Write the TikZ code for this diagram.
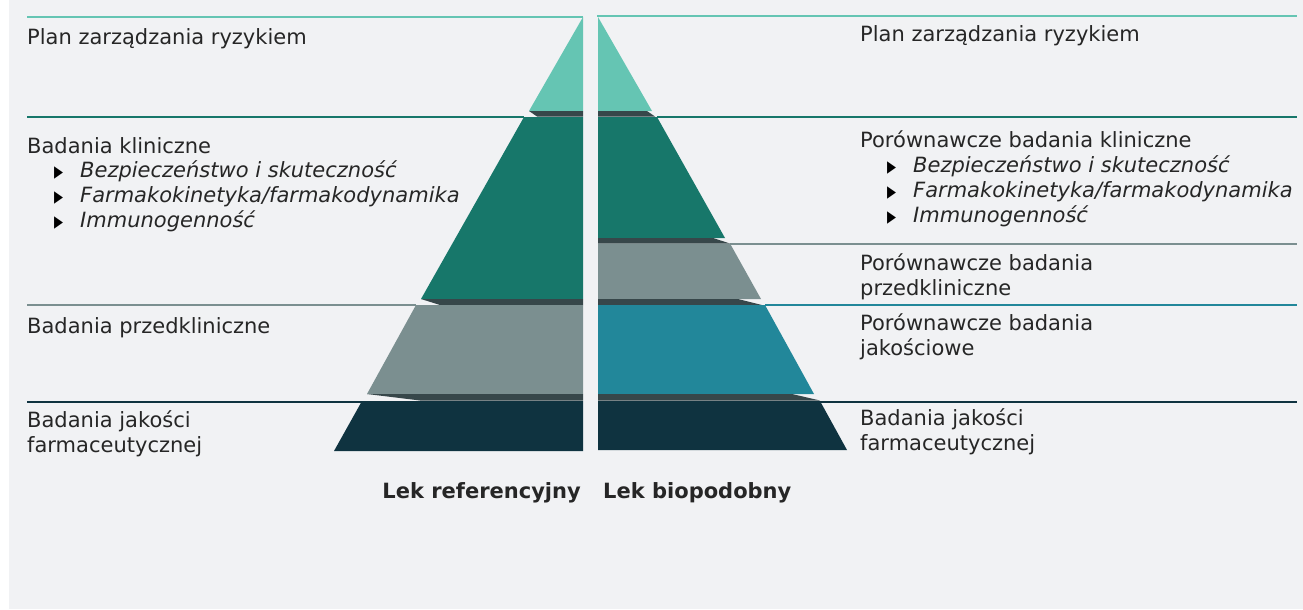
\documentclass[tikz,border=0pt]{standalone}
\usepackage{fontspec}
\usepackage{graphicx}
\setmainfont{DejaVu Sans}
\definecolor{bg}{HTML}{F1F2F4}
\definecolor{ltc}{HTML}{65C5B3}
\definecolor{grn}{HTML}{17776A}
\definecolor{gry}{HTML}{7B8F90}
\definecolor{tbl}{HTML}{22879A}
\definecolor{drk}{HTML}{0F3340}
\definecolor{shd}{HTML}{37474A}
\definecolor{txt}{HTML}{262626}
\newcommand{\bulglyph}{\scalebox{0.72}[1]{▸}}
\tikzset{
  lbl/.style={anchor=base west, inner sep=0pt, text=txt, font=\fontsize{21}{25}\selectfont},
  itl/.style={anchor=base west, inner sep=0pt, text=txt, font=\fontsize{21}{25}\selectfont\itshape},
  bul/.style={anchor=base west, inner sep=0pt, text=black, font=\fontsize{25}{25}\selectfont},
  ttl/.style={inner sep=0pt, text=txt, font=\fontsize{21}{25}\selectfont\bfseries},
  rulel/.style={line width=2pt},
}
\begin{document}
\begin{tikzpicture}[x=1pt,y=-1pt]
\useasboundingbox (0,0) rectangle (1303,610);
\fill[white] (0,0) rectangle (1303,610);
\fill[bg] (9,0) rectangle (1303,609);

% horizontal rules
\draw[rulel,ltc,line width=2.5pt] (27,17) -- (583,17);
\draw[rulel,grn] (27,117) -- (524,117);
\draw[rulel,gry] (27,305) -- (416,305);
\draw[rulel,drk] (27,402) -- (362,402);
\draw[rulel,ltc,line width=2.5pt] (597,16) -- (1297,16);
\draw[rulel,grn] (657,117) -- (1297,117);
\draw[rulel,gry] (730,244) -- (1297,244);
\draw[rulel,tbl] (765,305) -- (1297,305);
\draw[rulel,drk] (820,402) -- (1297,402);

% left pyramid
\fill[ltc] (583,17) -- (529,111) -- (583,111) -- cycle;
\fill[shd] (529,111) -- (537,116.5) -- (583,116.5) -- (583,111) -- cycle;
\fill[grn] (524,117) -- (421,299) -- (583,299) -- (583,117) -- cycle;
\fill[shd] (421,299) -- (440,305) -- (583,305) -- (583,299) -- cycle;
\fill[gry] (416,305) -- (367,394) -- (583,394) -- (583,305) -- cycle;
\fill[shd] (367,394) -- (420,400.5) -- (583,400.5) -- (583,394) -- cycle;
\fill[drk] (362,401) -- (334,451) -- (583,451) -- (583,401) -- cycle;

% right pyramid
\fill[ltc] (598,17) -- (652,111) -- (598,111) -- cycle;
\fill[shd] (598,111) -- (647,111) -- (655,116.5) -- (598,116.5) -- cycle;
\fill[grn] (598,117) -- (657,117) -- (725,238) -- (598,238) -- cycle;
\fill[shd] (598,238) -- (713,238) -- (730,243.5) -- (598,243.5) -- cycle;
\fill[gry] (598,243.5) -- (730,243.5) -- (761,299) -- (598,299) -- cycle;
\fill[shd] (598,299) -- (738,299) -- (762,305) -- (598,305) -- cycle;
\fill[tbl] (598,305) -- (765,305) -- (814,394) -- (598,394) -- cycle;
\fill[shd] (598,394) -- (792,394) -- (820,400.5) -- (598,400.5) -- cycle;
\fill[drk] (598,401) -- (820,401) -- (847,450) -- (598,450) -- cycle;

% left texts
\node[lbl] (l1) at (27,45) {Plan zarządzania ryzykiem};
\node[lbl] (l2) at (27,153) {Badania kliniczne};
\node[bul] (l2b1) at (54,179) {\bulglyph};
\node[itl] (l2a) at (80,177) {Bezpieczeństwo i skuteczność};
\node[bul] (l2b2) at (54,204) {\bulglyph};
\node[itl] (l2b) at (80,202) {Farmakokinetyka/farmakodynamika};
\node[bul] (l2b3) at (54,229) {\bulglyph};
\node[itl] (l2c) at (80,227) {Immunogenność};
\node[lbl] (l3) at (27,333) {Badania przedkliniczne};
\node[lbl] (l4a) at (27,427) {Badania jakości};
\node[lbl] (l4b) at (27,452) {farmaceutycznej};

% right texts
\node[lbl] (r1) at (860,42) {Plan zarządzania ryzykiem};
\node[lbl] (r2) at (860,147) {Porównawcze badania kliniczne};
\node[bul] (r2b1) at (887,174) {\bulglyph};
\node[itl] (r2a) at (913,172) {Bezpieczeństwo i skuteczność};
\node[bul] (r2b2) at (887,199) {\bulglyph};
\node[itl] (r2b) at (913,197) {Farmakokinetyka/farmakodynamika};
\node[bul] (r2b3) at (887,224) {\bulglyph};
\node[itl] (r2c) at (913,222) {Immunogenność};
\node[lbl] (r3a) at (860,270) {Porównawcze badania};
\node[lbl] (r3b) at (860,295) {przedkliniczne};
\node[lbl] (r4a) at (860,330) {Porównawcze badania};
\node[lbl] (r4b) at (860,355) {jakościowe};
\node[lbl] (r5a) at (860,425) {Badania jakości};
\node[lbl] (r5b) at (860,450) {farmaceutycznej};

% titles
\node[ttl,anchor=base east] (tref) at (581,498) {Lek referencyjny};
\node[ttl,anchor=base west] (tbio) at (603,498) {Lek biopodobny};
\end{tikzpicture}
\end{document}
